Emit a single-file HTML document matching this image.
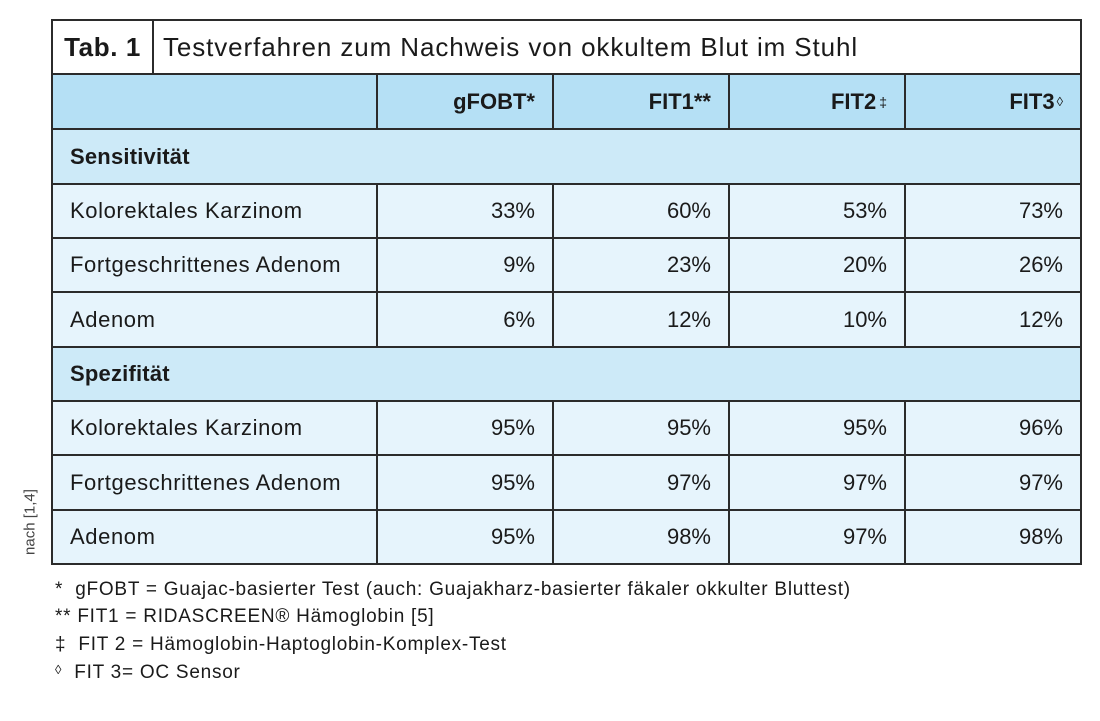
<!DOCTYPE html>
<html><head><meta charset="utf-8"><style>
body{margin:0;width:1100px;height:721px;background:#fff;position:relative;font-family:"Liberation Sans",sans-serif;color:#1a1a1a;overflow:hidden}
.c{position:absolute;box-sizing:border-box;display:flex;align-items:center;font-size:22px;letter-spacing:0.6px;white-space:nowrap}
.hl{position:absolute;height:2px;background:#2b2b2b;left:52px;width:1030px}
.vl{position:absolute;width:2px;background:#2b2b2b}
.r{justify-content:flex-end;padding-right:18px;letter-spacing:0}
.fn{position:absolute;font-size:19px;left:55px;letter-spacing:0.75px;white-space:nowrap}
</style></head><body>
<div style="position:absolute;left:52px;top:74px;width:1030px;height:55px;background:#b5e0f5"></div>
<div style="position:absolute;left:52px;top:129px;width:1030px;height:55px;background:#cdeaf8"></div>
<div style="position:absolute;left:52px;top:184px;width:1030px;height:163px;background:#e6f4fc"></div>
<div style="position:absolute;left:52px;top:347px;width:1030px;height:54px;background:#cdeaf8"></div>
<div style="position:absolute;left:52px;top:401px;width:1030px;height:163px;background:#e6f4fc"></div>

<div class="hl" style="top:19px"></div><div class="hl" style="top:73px"></div><div class="hl" style="top:128px"></div><div class="hl" style="top:183px"></div><div class="hl" style="top:237px"></div><div class="hl" style="top:291px"></div><div class="hl" style="top:346px"></div><div class="hl" style="top:400px"></div><div class="hl" style="top:454px"></div><div class="hl" style="top:509px"></div><div class="hl" style="top:563px"></div>
<div class="vl" style="left:51px;top:19px;height:546px"></div>
<div class="vl" style="left:1080px;top:19px;height:546px"></div>
<div class="vl" style="left:152px;top:19px;height:55px"></div>
<div class="vl" style="left:376px;top:74px;height:55px"></div><div class="vl" style="left:552px;top:74px;height:55px"></div><div class="vl" style="left:728px;top:74px;height:55px"></div><div class="vl" style="left:904px;top:74px;height:55px"></div>
<div class="vl" style="left:376px;top:184px;height:163px"></div><div class="vl" style="left:552px;top:184px;height:163px"></div><div class="vl" style="left:728px;top:184px;height:163px"></div><div class="vl" style="left:904px;top:184px;height:163px"></div>
<div class="vl" style="left:376px;top:401px;height:163px"></div><div class="vl" style="left:552px;top:401px;height:163px"></div><div class="vl" style="left:728px;top:401px;height:163px"></div><div class="vl" style="left:904px;top:401px;height:163px"></div>

<div class="c" style="left:52px;top:20px;width:101px;height:54px;justify-content:center;font-weight:bold;font-size:26px">Tab. 1</div>
<div class="c" style="left:163px;top:20px;height:54px;font-size:26px;letter-spacing:0.9px">Testverfahren zum Nachweis von okkultem Blut im Stuhl</div>

<div class="c r" style="left:377px;top:74px;width:176px;height:55px;font-weight:bold">gFOBT*</div>
<div class="c r" style="left:553px;top:74px;width:176px;height:55px;font-weight:bold">FIT1**</div>
<div class="c r" style="left:729px;top:74px;width:176px;height:55px;font-weight:bold">FIT2<span style="font-size:14px;font-weight:normal;margin-left:3px">‡</span></div>
<div class="c r" style="left:905px;top:74px;width:176px;height:55px;font-weight:bold">FIT3<span style="font-size:13px;font-weight:normal;margin-left:2px">◊</span></div>

<div class="c" style="left:70px;top:129px;height:55px;font-weight:bold;letter-spacing:0.2px">Sensitivität</div>
<div class="c" style="left:70px;top:347px;height:54px;font-weight:bold;letter-spacing:0.2px">Spezifität</div>

<div class="c" style="left:70px;top:184px;height:54px">Kolorektales Karzinom</div>
<div class="c" style="left:70px;top:238px;height:54px">Fortgeschrittenes Adenom</div>
<div class="c" style="left:70px;top:292px;height:55px">Adenom</div>
<div class="c" style="left:70px;top:401px;height:54px">Kolorektales Karzinom</div>
<div class="c" style="left:70px;top:455px;height:55px">Fortgeschrittenes Adenom</div>
<div class="c" style="left:70px;top:510px;height:54px">Adenom</div>

<div class="c r" style="left:377px;top:184px;width:176px;height:54px">33%</div><div class="c r" style="left:553px;top:184px;width:176px;height:54px">60%</div><div class="c r" style="left:729px;top:184px;width:176px;height:54px">53%</div><div class="c r" style="left:905px;top:184px;width:176px;height:54px">73%</div>
<div class="c r" style="left:377px;top:238px;width:176px;height:54px">9%</div><div class="c r" style="left:553px;top:238px;width:176px;height:54px">23%</div><div class="c r" style="left:729px;top:238px;width:176px;height:54px">20%</div><div class="c r" style="left:905px;top:238px;width:176px;height:54px">26%</div>
<div class="c r" style="left:377px;top:292px;width:176px;height:55px">6%</div><div class="c r" style="left:553px;top:292px;width:176px;height:55px">12%</div><div class="c r" style="left:729px;top:292px;width:176px;height:55px">10%</div><div class="c r" style="left:905px;top:292px;width:176px;height:55px">12%</div>
<div class="c r" style="left:377px;top:401px;width:176px;height:54px">95%</div><div class="c r" style="left:553px;top:401px;width:176px;height:54px">95%</div><div class="c r" style="left:729px;top:401px;width:176px;height:54px">95%</div><div class="c r" style="left:905px;top:401px;width:176px;height:54px">96%</div>
<div class="c r" style="left:377px;top:455px;width:176px;height:55px">95%</div><div class="c r" style="left:553px;top:455px;width:176px;height:55px">97%</div><div class="c r" style="left:729px;top:455px;width:176px;height:55px">97%</div><div class="c r" style="left:905px;top:455px;width:176px;height:55px">97%</div>
<div class="c r" style="left:377px;top:510px;width:176px;height:54px">95%</div><div class="c r" style="left:553px;top:510px;width:176px;height:54px">98%</div><div class="c r" style="left:729px;top:510px;width:176px;height:54px">97%</div><div class="c r" style="left:905px;top:510px;width:176px;height:54px">98%</div>

<div style="position:absolute;left:30px;top:522px;transform:translate(-50%,-50%) rotate(-90deg);font-size:15px;color:#444;white-space:nowrap">nach [1,4]</div>

<div class="fn" style="top:579px">*&nbsp;&nbsp;gFOBT = Guajac-basierter Test (auch: Guajakharz-basierter fäkaler okkulter Bluttest)</div>
<div class="fn" style="top:606px">**&nbsp;FIT1 = RIDASCREEN® Hämoglobin [5]</div>
<div class="fn" style="top:634px">‡&nbsp;&nbsp;FIT 2 = Hämoglobin-Haptoglobin-Komplex-Test</div>
<div class="fn" style="top:662px"><span style="font-size:13px;vertical-align:top">◊</span>&nbsp;&nbsp;FIT 3= OC Sensor</div>
</body></html>
